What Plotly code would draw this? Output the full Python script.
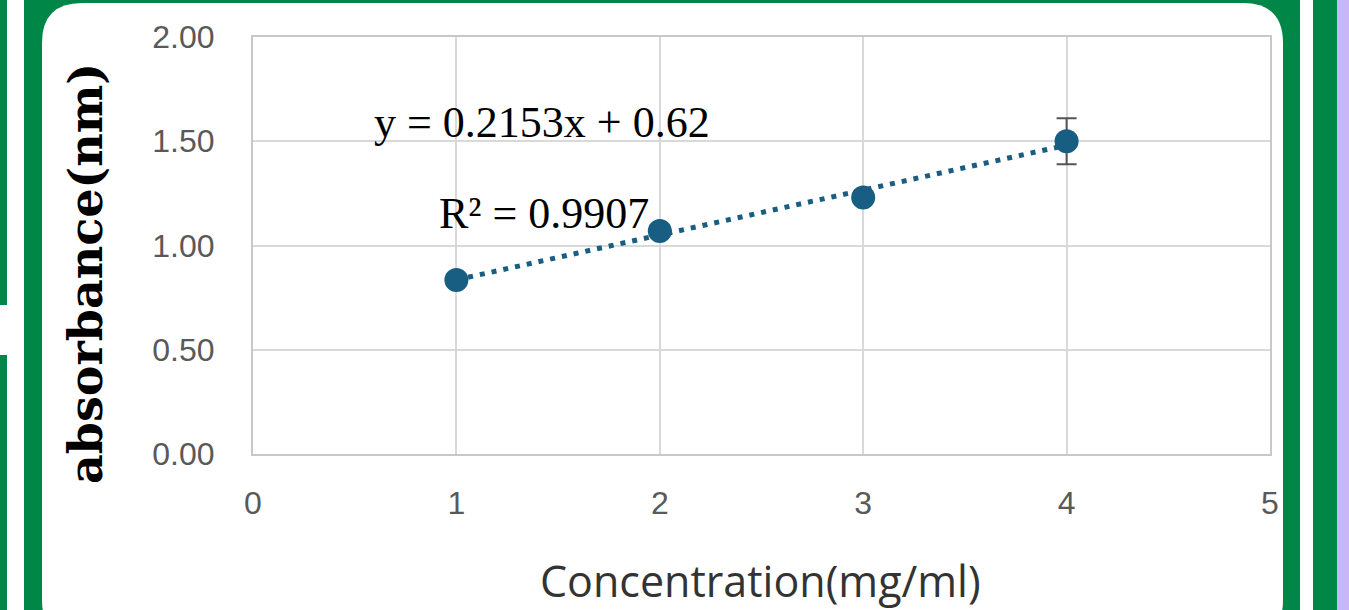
import plotly.graph_objects as go

# ---- data ----
concentration = [1, 2, 3, 4]
absorbance = [0.835, 1.07, 1.23, 1.50]
error_vals = [0, 0, 0, 0.11]
slope = 0.2153
intercept = 0.62
r_squared = 0.9907
x_ticks = [0, 1, 2, 3, 4, 5]
y_ticks = [0.0, 0.5, 1.0, 1.5, 2.0]

# ---- geometry helpers (pixel -> paper) ----
W, H = 1349, 610
L, R, T, B = 253, 79, 37, 156
PW, PH = W - L - R, H - T - B


def px(x):
    return (x - L) / PW


def py(y):
    return (H - B - y) / PH


def rrect(x0, y0, x1, y1, r):
    pts = [
        f"M {px(x0 + r)},{py(y0)}",
        f"L {px(x1 - r)},{py(y0)}",
        f"Q {px(x1)},{py(y0)} {px(x1)},{py(y0 + r)}",
        f"L {px(x1)},{py(y1 - r)}",
        f"Q {px(x1)},{py(y1)} {px(x1 - r)},{py(y1)}",
        f"L {px(x0 + r)},{py(y1)}",
        f"Q {px(x0)},{py(y1)} {px(x0)},{py(y1 - r)}",
        f"L {px(x0)},{py(y0 + r)}",
        f"Q {px(x0)},{py(y0)} {px(x0 + r)},{py(y0)}",
        "Z",
    ]
    return " ".join(pts)


GREEN = "#008748"
BLUE = "#175e82"

shapes = [
    dict(type="path", xref="paper", yref="paper", path=rrect(42, 3, 1283, 640, 40),
         fillcolor="white", line=dict(width=0), layer="below"),
    dict(type="rect", xref="paper", yref="paper", x0=px(7), x1=px(24), y0=py(-2), y1=py(H + 2),
         fillcolor="white", line=dict(width=0), layer="below"),
    dict(type="path", xref="paper", yref="paper", path=rrect(-20, 305, 24, 355, 8),
         fillcolor="white", line=dict(width=0), layer="below"),
    dict(type="rect", xref="paper", yref="paper", x0=px(1300), x1=px(1313), y0=py(-2), y1=py(H + 2),
         fillcolor="white", line=dict(width=0), layer="below"),
    dict(type="rect", xref="paper", yref="paper", x0=px(1337), x1=px(W + 2), y0=py(-2), y1=py(H + 2),
         fillcolor="#c9b6f8", line=dict(width=0), layer="below"),
]

fig = go.Figure()

fit_x = [min(concentration), max(concentration)]
fit_y = [slope * v + intercept for v in fit_x]
fig.add_trace(go.Scatter(
    x=fit_x, y=fit_y, mode="lines",
    line=dict(color=BLUE, width=5, dash="5px,7px"),
    hoverinfo="skip", showlegend=False,
))

fig.add_trace(go.Scatter(
    x=concentration, y=absorbance, mode="markers",
    marker=dict(color=BLUE, size=24),
    error_y=dict(type="data", array=error_vals, visible=True,
                 color="#555555", thickness=2, width=10),
    showlegend=False,
))

annotations = [
    dict(text=f"y = {slope}x + {intercept}", x=1.42, y=1.59, xref="x", yref="y",
         showarrow=False, xanchor="center", yanchor="middle",
         font=dict(family="Liberation Serif, Times New Roman, serif", size=44, color="black")),
    dict(text=f"R² = {r_squared}", x=1.43, y=1.155, xref="x", yref="y",
         showarrow=False, xanchor="center", yanchor="middle",
         font=dict(family="Liberation Serif, Times New Roman, serif", size=44, color="black")),
    dict(text="<b>absorbance(nm)</b>", x=px(86), y=py(274), xref="paper", yref="paper",
         textangle=-90, showarrow=False, xanchor="center", yanchor="middle",
         font=dict(family="DejaVu Serif, serif", size=46, color="black")),
    dict(text="Concentration(mg/ml)", x=px(760), y=py(580), xref="paper", yref="paper",
         showarrow=False, xanchor="center", yanchor="middle",
         font=dict(family="Open Sans, sans-serif", size=43, color="#333333")),
]

fig.update_layout(
    width=W, height=H,
    margin=dict(l=L, r=R, t=T, b=B, pad=0),
    paper_bgcolor=GREEN,
    plot_bgcolor="white",
    shapes=shapes,
    annotations=annotations,
    xaxis=dict(range=[0, 5], tickvals=x_ticks, ticktext=[str(v) for v in x_ticks],
               showgrid=True, gridcolor="#d9d9d9", gridwidth=2,
               showline=True, linecolor="#c8c8c8", linewidth=2, mirror=True,
               zeroline=False, ticks="", ticklabelstandoff=20,
               tickfont=dict(family="Liberation Sans, Arial, sans-serif", size=32, color="#595959")),
    yaxis=dict(range=[0, 2], tickvals=y_ticks, ticktext=[f"{v:.2f}" for v in y_ticks],
               showgrid=True, gridcolor="#d9d9d9", gridwidth=2,
               showline=True, linecolor="#c8c8c8", linewidth=2, mirror=True,
               zeroline=False, ticks="", ticklabelstandoff=30,
               tickfont=dict(family="Liberation Sans, Arial, sans-serif", size=32, color="#595959")),
)

fig.write_html(
    "out.html",
    config={"displayModeBar": False},
    post_script="document.body.style.margin='0';document.body.style.overflow='hidden';",
)
